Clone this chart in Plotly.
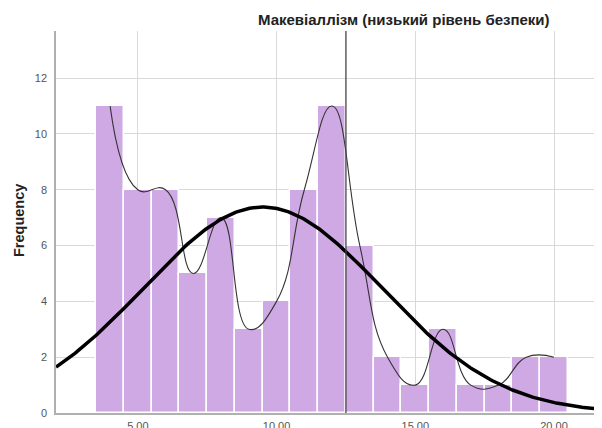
import numpy as np
import plotly.graph_objects as go

# Data
bin_centers = [4, 5, 6, 7, 8, 9, 10, 11, 12, 13, 14, 15, 16, 17, 18, 19, 20]
frequencies = [11, 8, 8, 5, 7, 3, 4, 8, 11, 6, 2, 1, 3, 1, 1, 2, 2]
x_tick_vals = [5, 10, 15, 20]
x_tick_text = ["5.00", "10.00", "15.00", "20.00"]
y_tick_vals = [0, 2, 4, 6, 8, 10, 12]
reference_line_x = 12.5
title_text = "Макевіаллізм (низький рівень безпеки)"
y_title = "Frequency"

# fitted normal curve parameters
normal_mean = 9.5
normal_sd = 4.3
normal_peak = 7.38

x_range = [2.05, 21.73]
y_range = [0, 13.69]

fig = go.Figure()

fig.add_trace(go.Bar(
    x=bin_centers, y=frequencies, width=1.0,
    marker=dict(color="#cfa9e3", line=dict(color="white", width=1.5)),
    hoverinfo="skip", showlegend=False,
))

# smooth curve through bar tops
fig.add_trace(go.Scatter(
    x=bin_centers, y=frequencies, mode="lines",
    line=dict(color="#333333", width=1.1, shape="spline", smoothing=1.3),
    showlegend=False,
))

# normal curve
xs = np.linspace(x_range[0], x_range[1], 300)
ys = normal_peak * np.exp(-0.5 * ((xs - normal_mean) / normal_sd) ** 2)
fig.add_trace(go.Scatter(
    x=xs, y=ys, mode="lines",
    line=dict(color="black", width=3.5),
    showlegend=False,
))

fig.add_shape(type="line", xref="x", yref="paper",
              x0=reference_line_x, x1=reference_line_x, y0=0, y1=1,
              line=dict(color="#444444", width=1.3))

# page body has an 8px margin, so the figure is drawn at (8, 8)
fig.update_layout(
    width=594, height=420,
    margin=dict(l=48, r=0, t=23, b=15),
    plot_bgcolor="white", paper_bgcolor="white",
    bargap=0,
    font=dict(family="Liberation Sans, Arial, sans-serif", color="#333333"),
    xaxis=dict(
        range=x_range, tickvals=x_tick_vals, ticktext=x_tick_text,
        showgrid=True, gridcolor="#d9d9d9", gridwidth=1,
        showline=True, linecolor="#b0b0b0", linewidth=1.5,
        zeroline=False, ticks="", tickfont=dict(size=11, color="#555555"),
        automargin=False, ticklabelstandoff=2,
    ),
    yaxis=dict(
        range=y_range, tickvals=y_tick_vals,
        showgrid=True, gridcolor="#d9d9d9", gridwidth=1,
        showline=True, linecolor="#b0b0b0", linewidth=1.5,
        zeroline=False, ticks="", ticklabelstandoff=5,
        tickfont=dict(size=11, color="#555555"), automargin=False,
    ),
    annotations=[
        dict(text="<b>" + title_text + "</b>", xref="paper", yref="paper",
             x=(404 - 56) / (602 - 56), y=1, yshift=12, xanchor="center", yanchor="middle",
             showarrow=False, font=dict(size=15, color="#222222")),
        dict(text="<b>" + y_title + "</b>", xref="paper", yref="paper",
             x=0, xshift=-37, y=(413 - 221) / (413 - 31), textangle=-90,
             xanchor="center", yanchor="middle",
             showarrow=False, font=dict(size=14.5, color="#222222")),
    ],
)

fig.write_html("out.html")
